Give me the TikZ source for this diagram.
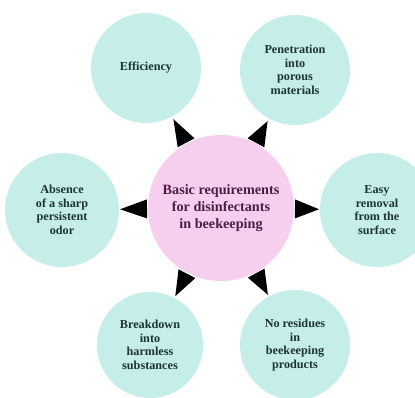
\documentclass[tikz,border=0pt]{standalone}
\usepackage{fontspec}
\setmainfont{Liberation Serif}
\usetikzlibrary{calc}
\definecolor{teal1}{RGB}{196,238,231}
\definecolor{pink1}{RGB}{246,206,238}
\definecolor{txtout}{RGB}{28,52,52}
\definecolor{txtin}{RGB}{76,30,66}
\tikzset{
  outer/.style={circle, fill=teal1, draw=none, inner sep=0pt, align=center, text=txtout,
    font=\fontsize{12.2}{13.6}\selectfont\bfseries},
  inner/.style={circle, fill=pink1, draw=none, inner sep=0pt, align=center, text=txtin,
    font=\fontsize{14.2}{17}\selectfont\bfseries},
  tri/.style={fill=black}
}
\newcommand{\spike}[4]{% center node, outer node, inner r, outer r
  \coordinate (b#2) at ($(#1)!#3!(#2)$);
  \coordinate (t#2) at ($(#2)!#4!(#1)$);
  \fill[tri] ($(b#2)!9.5pt!90:(t#2)$) -- (t#2) -- ($(b#2)!9.5pt!-90:(t#2)$) -- cycle;
}
\begin{document}
\begin{tikzpicture}[x=1pt,y=-1pt]
\useasboundingbox (0,0) rectangle (415,398);
\fill[white] (0,0) rectangle (415,398);
\clip (0,0) rectangle (415,398);
\node[inner, minimum size=146pt] (C) at (221,208) {Basic requirements\\for disinfectants\\in beekeeping};
\node[outer, minimum size=110pt] (E) at (146,68) {Efficiency};
\node[outer, minimum size=110pt] (P) at (295,70) {Penetration\\into\\porous\\materials};
\node[outer, minimum size=114pt] (A) at (62,210) {Absence\\of a sharp\\persistent\\odor};
\node[outer, minimum size=114pt] (R) at (377,210) {Easy\\removal\\from the\\surface};
\node[outer, minimum size=106pt] (B) at (150,345) {Breakdown\\into\\harmless\\substances};
\node[outer, minimum size=110pt] (N) at (295,345) {No residues\\in\\beekeeping\\products};
\spike{C}{E}{74pt}{58pt}
\spike{C}{P}{74pt}{58pt}
\spike{C}{A}{74pt}{58pt}
\spike{C}{R}{74pt}{58pt}
\spike{C}{B}{74pt}{55pt}
\spike{C}{N}{74pt}{57pt}
\end{tikzpicture}
\end{document}
